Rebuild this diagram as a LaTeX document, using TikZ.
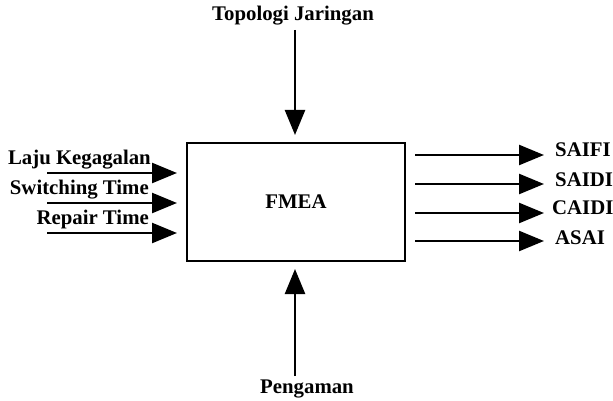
\documentclass[tikz,border=0pt]{standalone}
\usepackage{fontspec}
\setmainfont{Liberation Serif}
\usetikzlibrary{arrows.meta}
\begin{document}
\begin{tikzpicture}[x=1pt,y=-1pt,
  lbl/.style={font=\fontsize{20.8}{23}\selectfont\bfseries, inner sep=0pt},
  arr/.style={line width=2.4pt, -{Triangle[length=25pt,width=20pt]}},
  box/.style={draw, line width=2pt, minimum width=218pt, minimum height=118pt, inner sep=0pt}]
\useasboundingbox (0,0) rectangle (613,401);
\node[box, lbl] (fmea) at (296,202) {FMEA};
% top
\node[lbl] (top) at (293,16) {Topologi Jaringan};
\coordinate (topA) at (295,30);
\coordinate (topB) at (295,135);
\draw[arr] (topA) -- (topB);
% bottom
\node[lbl] (bot) at (307,389) {Pengaman};
\coordinate (botA) at (295,376);
\coordinate (botB) at (295,269);
\draw[arr] (botA) -- (botB);
% left inputs
\node[lbl, anchor=east] (l1) at (151,160) {Laju Kegagalan};
\node[lbl, anchor=east] (l2) at (149,190) {Switching Time};
\node[lbl, anchor=east] (l3) at (149,219) {Repair Time};
\coordinate (l1a) at (47,173); \coordinate (l1b) at (177,173);
\coordinate (l2a) at (47,203); \coordinate (l2b) at (177,203);
\coordinate (l3a) at (47,233); \coordinate (l3b) at (177,233);
\draw[arr] (l1a) -- (l1b);
\draw[arr] (l2a) -- (l2b);
\draw[arr] (l3a) -- (l3b);
% right outputs
\coordinate (r1a) at (415,155); \coordinate (r1b) at (544,155);
\coordinate (r2a) at (415,184); \coordinate (r2b) at (544,184);
\coordinate (r3a) at (415,213); \coordinate (r3b) at (544,213);
\coordinate (r4a) at (415,241); \coordinate (r4b) at (544,241);
\draw[arr] (r1a) -- (r1b);
\draw[arr] (r2a) -- (r2b);
\draw[arr] (r3a) -- (r3b);
\draw[arr] (r4a) -- (r4b);
\node[lbl, anchor=west] (o1) at (555,150) {SAIFI};
\node[lbl, anchor=west] (o2) at (555,180) {SAIDI};
\node[lbl, anchor=west] (o3) at (552,208) {CAIDI};
\node[lbl, anchor=west] (o4) at (555,238) {ASAI};
\end{tikzpicture}
\end{document}
